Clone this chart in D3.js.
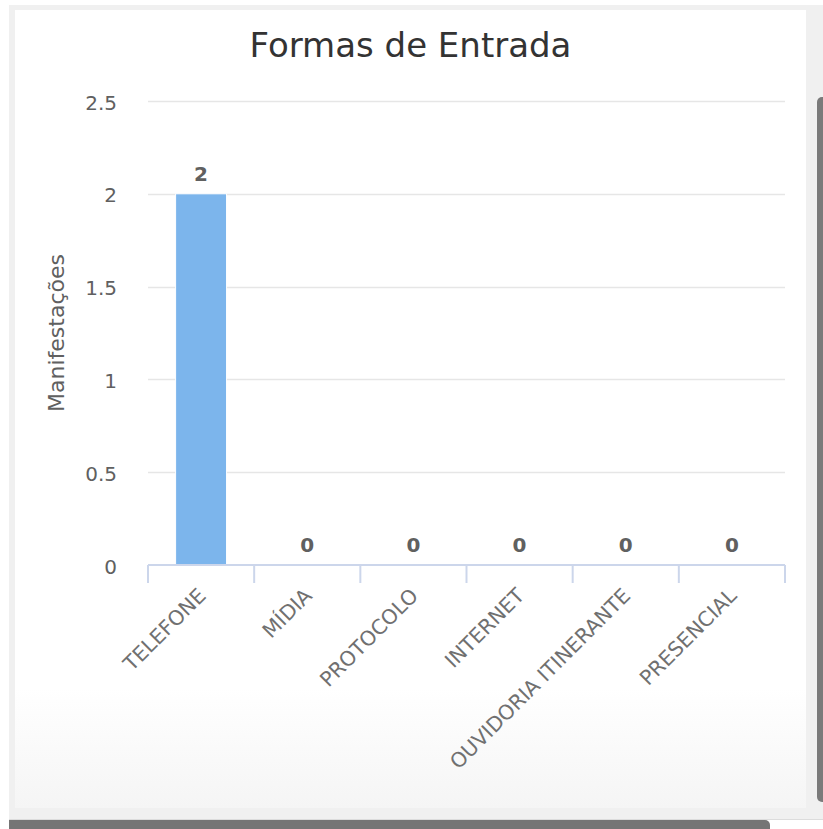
<!DOCTYPE html>
<html>
<head>
<meta charset="utf-8">
<script src="https://cdn.jsdelivr.net/npm/d3@7"></script>
<style>
  html, body { margin: 0; padding: 0; background: #ffffff; }
  svg { display: block; }
</style>
</head>
<body>
<svg id="chart" width="823" height="829"></svg>
<script>
const titleText = "Formas de Entrada";
const yAxisTitle = "Manifestações";
const categories = ["TELEFONE", "MÍDIA", "PROTOCOLO", "INTERNET", "OUVIDORIA ITINERANTE", "PRESENCIAL"];
const values = [2, 0, 0, 0, 0, 0];
const yTicks = [0, 0.5, 1, 1.5, 2, 2.5];

(function () {
const svg = d3.select("#chart");
const FONT = "'DejaVu Sans', 'Lucida Grande', sans-serif";

// page / panel background
const defs = svg.append("defs");
const grad = defs.append("linearGradient").attr("id", "panelGrad")
  .attr("x1", 0).attr("y1", 0).attr("x2", 0).attr("y2", 1);
grad.append("stop").attr("offset", "0.85").attr("stop-color", "#ffffff");
grad.append("stop").attr("offset", "1").attr("stop-color", "#f5f5f5");

svg.append("rect").attr("x", 9).attr("y", 5).attr("width", 814).attr("height", 815).attr("fill", "#f0f0f0");
svg.append("rect").attr("x", 15).attr("y", 10).attr("width", 791).attr("height", 798).attr("fill", "url(#panelGrad)");
// scrollbars
svg.append("rect").attr("x", 817).attr("y", 97).attr("width", 12).attr("height", 705).attr("rx", 5).attr("fill", "#7a7a7a");
svg.append("line").attr("x1", 9).attr("x2", 823).attr("y1", 819.5).attr("y2", 819.5).attr("stroke", "#dcdcdc");
svg.append("rect").attr("x", 9).attr("y", 820).attr("width", 761).attr("height", 14).attr("rx", 5).attr("fill", "#757575");
svg.append("rect").attr("x", 9).attr("y", 820).attr("width", 20).attr("height", 14).attr("fill", "#757575");

const plotLeft = 148, plotRight = 785, plotTop = 101, plotBottom = 565;

const x = d3.scaleBand().domain(categories).range([plotLeft, plotRight]).paddingInner(0).paddingOuter(0);
const y = d3.scaleLinear().domain([0, 2.5]).range([plotBottom, plotTop]);

// title
svg.append("text").attr("x", 410.5).attr("y", 57)
  .attr("text-anchor", "middle").attr("font-family", FONT).attr("font-size", 34)
  .attr("fill", "#333333").text(titleText);

// grid lines
svg.append("g").selectAll("line").data(yTicks.filter(d => d > 0)).join("line")
  .attr("x1", plotLeft).attr("x2", plotRight)
  .attr("y1", d => Math.round(y(d)) + 0.5).attr("y2", d => Math.round(y(d)) + 0.5)
  .attr("stroke", "#e6e6e6").attr("stroke-width", 1.6);

// y axis labels
const yAxis = svg.append("g").attr("transform", `translate(${plotLeft},0)`)
  .call(d3.axisLeft(y).tickValues(yTicks).tickSize(0).tickPadding(31).tickFormat(d3.format("~g")));
yAxis.select(".domain").remove();
yAxis.selectAll("text").attr("font-family", FONT).attr("font-size", 20).attr("fill", "#606060").attr("dy", "0.4em");

// y axis title
svg.append("text").attr("transform", `translate(64,${(plotTop + plotBottom) / 2}) rotate(-90)`)
  .attr("text-anchor", "middle").attr("font-family", FONT).attr("font-size", 22)
  .attr("fill", "#606060").text(yAxisTitle);

// bars
const bw = x.bandwidth();
svg.append("g").selectAll("rect").data(categories).join("rect")
  .attr("x", d => x(d) + bw * 0.26)
  .attr("width", bw * 0.48)
  .attr("y", (d, i) => y(values[i]))
  .attr("height", (d, i) => y(0) - y(values[i]))
  .attr("fill", "#7cb5ec").attr("stroke", "#ffffff").attr("stroke-width", 1);

// x axis line and ticks
const xAxis = svg.append("g").attr("transform", `translate(0,${plotBottom})`)
  .call(d3.axisBottom(x).tickSize(0).tickFormat(""));
xAxis.select(".domain").attr("stroke", "#ccd6eb").attr("stroke-width", 2)
  .attr("d", `M${plotLeft},0H${plotRight}`);
xAxis.selectAll(".tick").remove();
const boundaries = categories.map(c => x(c)).concat([x.range()[1]]);
svg.append("g").selectAll("line").data(boundaries).join("line")
  .attr("x1", d => d).attr("x2", d => d)
  .attr("y1", plotBottom).attr("y2", plotBottom + 18)
  .attr("stroke", "#ccd6eb").attr("stroke-width", 2);

// x labels
svg.append("g").selectAll("text").data(categories).join("text")
  .attr("transform", d => `translate(${x(d) + bw / 2 + 6},${plotBottom + 32}) rotate(-45)`)
  .attr("text-anchor", "end").attr("font-family", FONT).attr("font-size", 20.5)
  .attr("fill", "#707070").text(d => d);

// data labels
svg.append("g").selectAll("text").data(categories).join("text")
  .attr("x", d => x(d) + bw / 2)
  .attr("y", (d, i) => y(values[i]) - 13)
  .attr("text-anchor", "middle").attr("font-family", FONT).attr("font-size", 20)
  .attr("font-weight", "bold").attr("fill", "#606060")
  .text((d, i) => values[i]);
})();
</script>
</body>
</html>
